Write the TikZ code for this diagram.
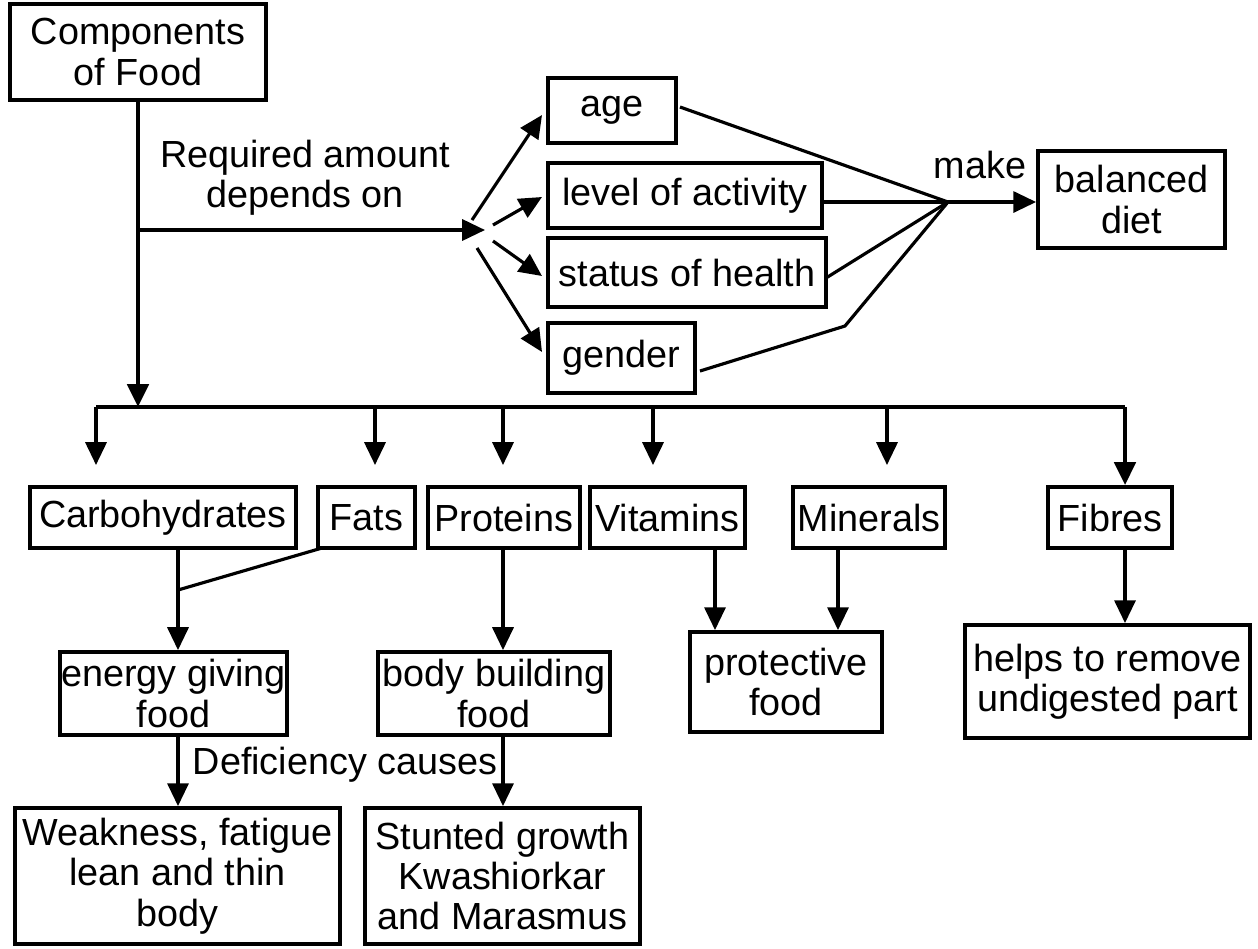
\documentclass[tikz,border=0pt]{standalone}
\usepackage{fontspec}
\setmainfont{Liberation Sans}
\usetikzlibrary{arrows.meta}
\begin{document}
\begin{tikzpicture}[x=0.02cm,y=-0.02cm,
  box/.style={draw,line width=2.2pt,inner sep=0pt,align=center,font=\fontsize{21.5}{23}\selectfont},
  lbl/.style={inner sep=0pt,align=center,font=\fontsize{21.5}{23}\selectfont},
  conn/.style={line width=1.8pt},
  arr/.style={line width=1.8pt,-{Triangle[length=13pt,width=12pt]}},
  thick arr/.style={line width=2.6pt,-{Triangle[length=13pt,width=12pt]}}]
\useasboundingbox (0,0) rectangle (1258,948);
% boxes
\node[box,minimum width=5.12cm,minimum height=1.92cm] (comp) at (138,52) {Components\\of Food};
\node[box,minimum width=2.56cm,minimum height=1.30cm] (age) at (612,110.5) {age};
\node[box,minimum width=5.48cm,minimum height=1.30cm] (level) at (685,195.5) {level of activity};
\node[box,minimum width=5.56cm,minimum height=1.38cm] (status) at (687,272.5) {status of health};
\node[box,minimum width=2.94cm,minimum height=1.40cm] (gender) at (621.5,358) {gender};
\node[box,minimum width=3.74cm,minimum height=1.94cm] (diet) at (1131.5,199.5) {balanced\\diet};
\node[box,minimum width=5.32cm,minimum height=1.22cm] (carbo) at (163,517.5) {Carbohydrates};
\node[box,minimum width=1.94cm,minimum height=1.22cm] (fats) at (366.5,517.5) {Fats};
\node[box,minimum width=3.04cm,minimum height=1.22cm] (prot) at (504,517.5) {Proteins};
\node[box,minimum width=3.10cm,minimum height=1.22cm] (vit) at (667.5,517.5) {Vitamins};
\node[box,minimum width=3.04cm,minimum height=1.22cm] (min) at (869,517.5) {Minerals};
\node[box,minimum width=2.48cm,minimum height=1.22cm] (fib) at (1110,517.5) {Fibres};
\node[box,minimum width=4.54cm,minimum height=1.66cm] (energy) at (173.5,693.5) {energy giving\\food};
\node[box,minimum width=4.64cm,minimum height=1.66cm] (body) at (494,693.5) {body building\\food};
\node[box,minimum width=3.84cm,minimum height=2.00cm] (prote) at (786,682) {protective\\food};
\node[box,minimum width=5.70cm,minimum height=2.26cm] (helps) at (1107.5,681.5) {helps to remove\\undigested part};
\node[box,minimum width=6.50cm,minimum height=2.72cm] (weak) at (177.5,876) {Weakness, fatigue\\lean and thin\\body};
\node[box,minimum width=5.50cm,minimum height=2.72cm] (stunt) at (502.5,876) {Stunted growth\\Kwashiorkar\\and Marasmus};
% labels
\node[lbl] (req) at (305,178) {Required amount\\depends on};
\node[lbl] (make) at (980,165) {make};
\node[lbl] (def) at (345,765) {Deficiency causes};
% coordinates
\coordinate (busC) at (138,407);
\coordinate (busL) at (96,407);
\coordinate (busR) at (1125,407);
\coordinate (reqE) at (138,230);
\coordinate (fan) at (485,230);
\coordinate (fa1) at (472,220);
\coordinate (fa2) at (493,225);
\coordinate (fa3) at (493,241);
\coordinate (fa4) at (477,248);
\coordinate (ta1) at (542,115);
\coordinate (ta2) at (542,197);
\coordinate (ta3) at (542,276);
\coordinate (ta4) at (542,352);
\coordinate (J) at (948,202);
\coordinate (ageE) at (680,107);
\coordinate (statE) at (826,278);
\coordinate (gendE) at (700,371);
\coordinate (gendK) at (845,326);
\coordinate (t1) at (96,465);
\coordinate (t2) at (375,465);
\coordinate (t3) at (503,465);
\coordinate (t4) at (653,465);
\coordinate (t5) at (887,465);
\coordinate (cj) at (178,590);
\coordinate (fatsS) at (322,548);
% main trunk
\draw[thick arr] (comp.south) -- (busC);
\draw[line width=2.6pt] (busL) -- (busR);
\draw[arr] (busL) -- (t1);
\draw[arr] (t2 |- busC) -- (t2);
\draw[arr] (t3 |- busC) -- (t3);
\draw[arr] (t4 |- busC) -- (t4);
\draw[arr] (t5 |- busC) -- (t5);
\draw[thick arr] (busR) -- (busR |- fib.north);
% depends on
\draw[arr] (reqE) -- (fan);
\draw[arr] (fa1) -- (ta1);
\draw[arr] (fa2) -- (ta2);
\draw[arr] (fa3) -- (ta3);
\draw[arr] (fa4) -- (ta4);
% to balanced diet
\draw[conn] (ageE) -- (J);
\draw[conn] (level.east |- J) -- (J);
\draw[conn] (statE) -- (J);
\draw[conn] (gendE) -- (gendK) -- (J);
\draw[arr] (J) -- (diet.west |- J);
% lower part
\draw[conn] (carbo.south -| cj) -- (cj);
\draw[conn] (fatsS) -- (cj);
\draw[arr] (cj) -- (energy.north -| cj);
\draw[arr] (prot.south -| t3) -- (body.north -| t3);
\draw[arr] (vit.south -| 715,0) -- (prote.north -| 715,0);
\draw[arr] (min.south -| 838,0) -- (prote.north -| 838,0);
\draw[arr] (fib.south -| busR) -- (helps.north -| busR);
\draw[arr] (energy.south -| cj) -- (weak.north -| cj);
\draw[arr] (body.south -| t3) -- (stunt.north -| t3);
\end{tikzpicture}
\end{document}
